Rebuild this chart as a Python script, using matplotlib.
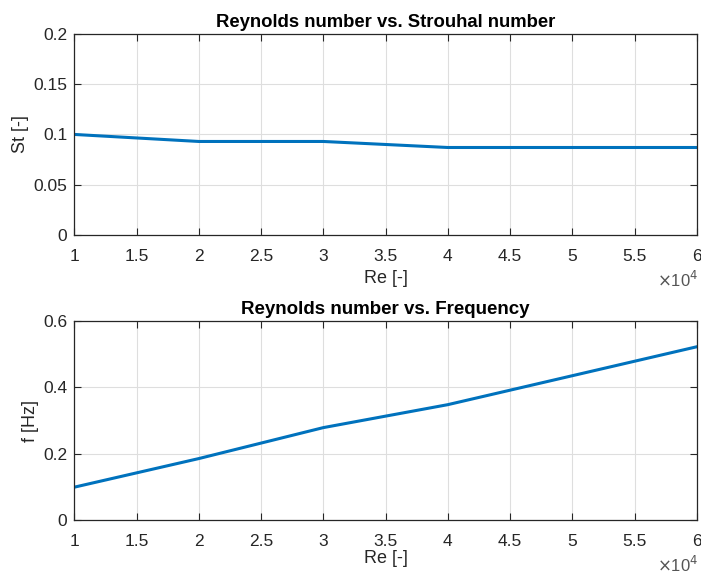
import numpy as np
import matplotlib.pyplot as plt
from matplotlib.ticker import FuncFormatter, MultipleLocator

plt.rcParams['font.family'] = ['Liberation Sans', 'DejaVu Sans']

# Reynolds number sweep and measured shedding
Re = [10000, 20000, 30000, 40000, 50000, 60000]
St = [0.100, 0.093, 0.093, 0.087, 0.087, 0.087]
f = [0.100, 0.186, 0.279, 0.348, 0.435, 0.522]

line_col = '#0072BD'
txt_col = '#262626'

fig = plt.figure(figsize=(7.01, 5.77), dpi=100)
ax1 = fig.add_axes([0.106, 0.593, 0.888, 0.348])
ax2 = fig.add_axes([0.106, 0.098, 0.888, 0.346])

def style(ax, xlab_y):
    ax.set_xlim(10000, 60000)
    ax.xaxis.set_major_locator(MultipleLocator(5000))
    ax.xaxis.set_major_formatter(FuncFormatter(lambda v, p: f"{v/1e4:g}"))
    ax.grid(True, color='#dedede', linewidth=0.8)
    ax.set_axisbelow(True)
    ax.tick_params(direction='in', top=True, right=True, length=5,
                   labelsize=12.5, colors=txt_col, labelcolor=txt_col)
    ax.tick_params(axis='x', pad=10)
    ax.tick_params(axis='y', pad=5)
    for s in ax.spines.values():
        s.set_color(txt_col)
        s.set_linewidth(0.9)
    ax.set_xlabel('Re [-]', fontsize=13, color=txt_col, va='center')
    ax.xaxis.set_label_coords(0.5, xlab_y)
    ax.text(1.003, -0.26, r'$\times$10$^4$', transform=ax.transAxes,
            ha='right', va='baseline', fontsize=12, color='#555555')

ax1.plot(Re, St, color=line_col, linewidth=2.2)
style(ax1, -0.219)
ax1.set_ylim(0, 0.2)
ax1.yaxis.set_major_locator(MultipleLocator(0.05))
ax1.yaxis.set_major_formatter(FuncFormatter(lambda v, p: f"{v:g}"))
ax1.set_ylabel('St [-]', fontsize=13, color=txt_col, va='center')
ax1.yaxis.set_label_coords(-0.087, 0.5)
ax1.set_title('Reynolds number vs. Strouhal number', fontsize=13.3,
              fontweight='bold', color='black', pad=5)

ax2.plot(Re, f, color=line_col, linewidth=2.2)
style(ax2, -0.19)
ax2.set_ylim(0, 0.6)
ax2.yaxis.set_major_locator(MultipleLocator(0.2))
ax2.yaxis.set_major_formatter(FuncFormatter(lambda v, p: f"{v:g}"))
ax2.set_ylabel('f [Hz]', fontsize=13, color=txt_col, va='center')
ax2.yaxis.set_label_coords(-0.071, 0.5)
ax2.set_title('Reynolds number vs. Frequency', fontsize=13.5,
              fontweight='bold', color='black', pad=5)

fig.savefig('out.png', dpi=100)
